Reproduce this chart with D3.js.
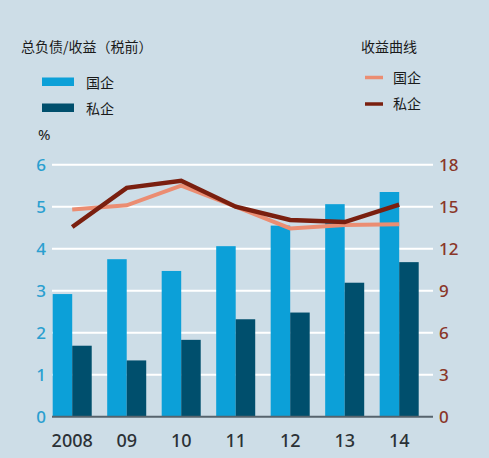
<!DOCTYPE html>
<html>
<head>
<meta charset="utf-8">
<script src="https://cdn.jsdelivr.net/npm/d3@7"></script>
<style>
  html, body { margin: 0; padding: 0; background: #cddde7; }
  svg { display: block; }
</style>
</head>
<body>
<div id="chart"></div>
<script>
// data
const years = ["2008", "09", "10", "11", "12", "13", "14"];
const debtState = [2.92, 3.75, 3.47, 4.06, 4.55, 5.06, 5.35];
const debtPrivate = [1.69, 1.34, 1.83, 2.32, 2.48, 3.19, 3.68];
const yieldState = [14.8, 15.1, 16.5, 15.0, 13.45, 13.7, 13.75];
const yieldPrivate = [13.55, 16.35, 16.85, 15.0, 14.05, 13.9, 15.15];
const leftTicks = [0, 1, 2, 3, 4, 5, 6];
const rightTicks = [0, 3, 6, 9, 12, 15, 18];

const width = 489, height = 458;
const font = "'Noto Sans', 'Noto Sans CJK SC', sans-serif";
const cjk = "'Noto Sans CJK SC', sans-serif";

const colors = {
  state: "#0ca0d8",
  priv: "#004f6d",
  lineState: "#eb8d72",
  linePriv: "#7a1f0f",
  leftText: "#2a9fd0",
  rightText: "#8a3628"
};

const svg = d3.select("#chart").append("svg")
  .attr("width", width)
  .attr("height", height);

svg.append("rect")
  .attr("width", width)
  .attr("height", height)
  .attr("fill", "#cddde7");

const x = d3.scaleBand()
  .domain(years)
  .range([52.7, 418.7])
  .paddingInner(0.284)
  .paddingOuter(0);

const xSub = d3.scaleBand()
  .domain(["state", "priv"])
  .range([0, x.bandwidth()]);

const yLeft = d3.scaleLinear().domain([0, 6]).range([416.7, 164.7]);
const yRight = d3.scaleLinear().domain([0, 18]).range([416.7, 164.7]);

// gridlines
svg.append("g")
  .selectAll("line")
  .data(leftTicks.slice(1))
  .join("line")
  .attr("x1", 52)
  .attr("x2", 433)
  .attr("y1", d => yLeft(d))
  .attr("y2", d => yLeft(d))
  .attr("stroke", "#ffffff")
  .attr("stroke-width", 2);

// bars
const groups = svg.append("g")
  .selectAll("g")
  .data(years.map((yr, i) => ({ yr, state: debtState[i], priv: debtPrivate[i] })))
  .join("g")
  .attr("transform", d => `translate(${x(d.yr)},0)`);

groups.selectAll("rect")
  .data(d => [{ k: "state", v: d.state }, { k: "priv", v: d.priv }])
  .join("rect")
  .attr("x", d => xSub(d.k))
  .attr("width", xSub.bandwidth())
  .attr("y", d => yLeft(d.v))
  .attr("height", d => yLeft(0) - yLeft(d.v))
  .attr("fill", d => colors[d.k]);

// baseline
svg.append("line")
  .attr("x1", 52)
  .attr("x2", 433)
  .attr("y1", yLeft(0))
  .attr("y2", yLeft(0))
  .attr("stroke", "#56636d")
  .attr("stroke-width", 2);

// lines
const line = d3.line()
  .x((d, i) => x(years[i]) + x.bandwidth() / 2)
  .y(d => yRight(d));

svg.append("path")
  .datum(yieldState)
  .attr("d", line)
  .attr("fill", "none")
  .attr("stroke", colors.lineState)
  .attr("stroke-width", 4);

svg.append("path")
  .datum(yieldPrivate)
  .attr("d", line)
  .attr("fill", "none")
  .attr("stroke", colors.linePriv)
  .attr("stroke-width", 4.5);

// left axis labels
svg.append("g")
  .selectAll("text")
  .data(leftTicks)
  .join("text")
  .attr("x", 46)
  .attr("y", d => yLeft(d))
  .attr("dy", "0.35em")
  .attr("text-anchor", "end")
  .attr("fill", colors.leftText)
  .style("font", `500 17px ${font}`)
  .text(d => d);

// right axis labels
svg.append("g")
  .selectAll("text")
  .data(rightTicks)
  .join("text")
  .attr("x", 439)
  .attr("y", d => yRight(d))
  .attr("dy", "0.35em")
  .attr("text-anchor", "start")
  .attr("fill", colors.rightText)
  .style("font", `500 17px ${font}`)
  .text(d => d);

// year labels
svg.append("g")
  .selectAll("text")
  .data(years)
  .join("text")
  .attr("x", d => x(d) + x.bandwidth() / 2)
  .attr("y", 447)
  .attr("text-anchor", "middle")
  .attr("fill", "#2b3136")
  .style("font", `500 18px ${font}`)
  .text(d => d);

// titles & legends
svg.append("text")
  .attr("x", 21)
  .attr("y", 52)
  .attr("fill", "#1a1a1a")
  .style("font", `14px ${cjk}`)
  .text("总负债/收益（税前）");

svg.append("text")
  .attr("x", 361)
  .attr("y", 52)
  .attr("fill", "#1a1a1a")
  .style("font", `14px ${cjk}`)
  .text("收益曲线");

svg.append("text")
  .attr("x", 38)
  .attr("y", 140)
  .attr("fill", "#1a1a1a")
  .style("font", `15px ${font}`)
  .text("%");

const barLegend = [
  { label: "国企", color: colors.state, y: 77.5 },
  { label: "私企", color: colors.priv, y: 103.5 }
];

svg.append("g")
  .selectAll("rect")
  .data(barLegend)
  .join("rect")
  .attr("x", 42)
  .attr("y", d => d.y)
  .attr("width", 32)
  .attr("height", 8.5)
  .attr("fill", d => d.color);

svg.append("g")
  .selectAll("text")
  .data(barLegend)
  .join("text")
  .attr("x", 86)
  .attr("y", d => d.y + 10)
  .attr("fill", "#1a1a1a")
  .style("font", `14px ${cjk}`)
  .text(d => d.label);

const lineLegend = [
  { label: "国企", color: colors.lineState, y: 77.5 },
  { label: "私企", color: colors.linePriv, y: 104 }
];

svg.append("g")
  .selectAll("line")
  .data(lineLegend)
  .join("line")
  .attr("x1", 365)
  .attr("x2", 383)
  .attr("y1", d => d.y)
  .attr("y2", d => d.y)
  .attr("stroke", d => d.color)
  .attr("stroke-width", 3.5);

svg.append("g")
  .selectAll("text")
  .data(lineLegend)
  .join("text")
  .attr("x", 393)
  .attr("y", d => d.y + 5)
  .attr("fill", "#1a1a1a")
  .style("font", `14px ${cjk}`)
  .text(d => d.label);
</script>
</body>
</html>
